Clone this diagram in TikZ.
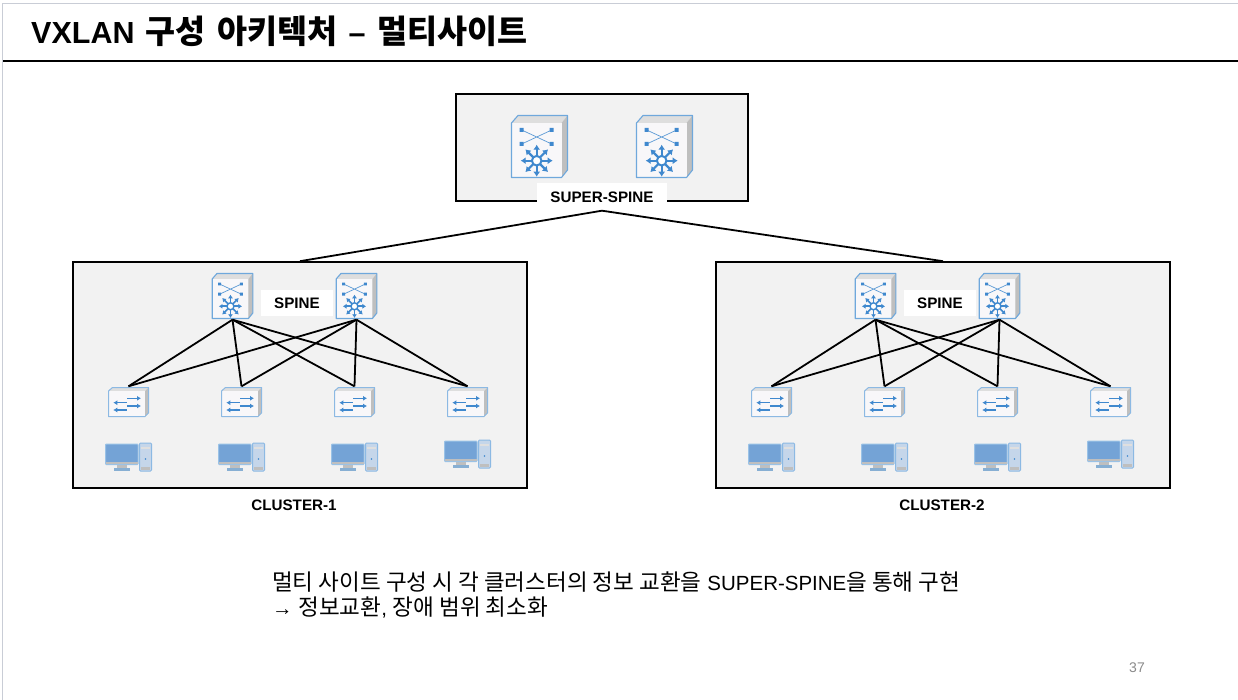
\documentclass[tikz,border=0pt]{standalone}
\usepackage{fontspec}
\setmainfont{Liberation Sans}
\newfontfamily\cjk[Scale=1.1]{Noto Sans CJK KR}
\newfontfamily\cjktitle[Scale=1.07]{Noto Sans CJK KR}
\usepackage{xcolor}
\definecolor{panelGray}{HTML}{F2F2F2}
\definecolor{frameGray}{HTML}{C9CDD6}
\definecolor{iconBlue}{HTML}{3F88CE}
\definecolor{iconEdge}{HTML}{6FA8DC}
\definecolor{iconFace}{HTML}{F8F7F9}
\definecolor{iconTop}{HTML}{DEDEDE}
\definecolor{iconSide}{HTML}{BFBFBF}
\definecolor{screenBlue}{HTML}{74A3D6}
\definecolor{towerBlue}{HTML}{C5D6EA}
\definecolor{pageGray}{HTML}{8A8A8A}
\usepackage{tikz}
\usetikzlibrary{
    arrows.meta,
    positioning
}
% Icons, drawn around the centre of their node
\newcommand{\coreswitch}[1]{%
    \begin{scope}[shift={(path picture bounding box.center)}, x=#1pt, y=-#1pt]
        \fill [iconTop] (-28,-23.5) -- (-21.5,-31) -- (28,-31) -- (22,-23.5) -- cycle;
        \fill [iconSide] (22,-23.5) -- (28,-31) -- (28,23.5) -- (22,31) -- cycle;
        \fill [iconFace] (-28,-23.5) rectangle (22,31);
        \draw [iconEdge, line width=1.1pt, line join=round] (-28,-23.5) -- (-21.5,-31) -- (28,-31) -- (28,23.5) -- (22,31) -- (-28,31) -- cycle;
        \draw [iconBlue!85, line width=.7pt] (-17.8,-16.5) -- (12.2,-2.5) (-17.8,-2.5) -- (12.2,-16.5);
        \fill [iconBlue] (-19.8,-18.5) rectangle (-15.8,-14.5) (10.2,-18.5) rectangle (14.2,-14.5)
            (-19.8,-4.5) rectangle (-15.8,-.5) (10.2,-4.5) rectangle (14.2,-.5);
        \foreach \ang in {0,45,...,315}
            \draw [iconBlue, line width=#1*2.2pt, -{Latex[length=#1*5pt, width=#1*7pt]}] (-2.8,14.2) ++(\ang:4) -- ++(\ang:12);
        \draw [iconBlue, line width=#1*2pt, fill=white] (-2.8,14.2) circle (4.8);
    \end{scope}}
\newcommand{\leafswitch}{%
    \begin{scope}[shift={(path picture bounding box.center)}]
        \fill [iconTop] (-20,-11) -- (-16,-14.5) -- (20,-14.5) -- (16.5,-11) -- cycle;
        \fill [iconSide] (16.5,-11) -- (20,-14.5) -- (20,11) -- (16.5,14.5) -- cycle;
        \fill [iconFace] (-20,-11) rectangle (16.5,14.5);
        \draw [iconEdge!80, line width=1pt, line join=round] (-20,-11) -- (-16,-14.5) -- (20,-14.5) -- (20,11) -- (16.5,14.5) -- (-20,14.5) -- cycle;
        \draw [iconBlue, line width=1.5pt, -{Latex[length=4pt, width=5pt]}] (-1.2,-3.7) -- (12.5,-3.7);
        \draw [iconBlue, line width=1.5pt, -{Latex[length=4pt, width=5pt]}] (-1.2,4) -- (12.5,4);
        \draw [iconBlue, line width=1.5pt, -{Latex[length=4pt, width=5pt]}] (-1.8,.7) -- (-15.2,.7);
        \draw [iconBlue, line width=1.5pt, -{Latex[length=4pt, width=5pt]}] (-1.8,8) -- (-15.2,8);
    \end{scope}}
\newcommand{\hostpc}{%
    \begin{scope}[shift={(path picture bounding box.center)}]
        \fill [iconSide] (-11.8,7) rectangle (-1.8,11);
        \fill [iconEdge!70!iconSide] (-15,11) rectangle (1.5,13.5);
        \draw [draw=iconEdge!70, line width=1pt, fill=screenBlue, rounded corners=.8pt] (-23,-13) rectangle (9.5,7.5);
        \fill [iconSide] (-22.6,5.3) rectangle (9.1,7.1);
        \draw [draw=iconEdge!80, line width=1pt, fill=towerBlue, rounded corners=1pt] (11,-14) rectangle (23,14);
        \fill [iconSide!50] (12.5,-10.5) rectangle (21.5,-8.5);
        \fill [iconSide] (12.5,10) rectangle (21.5,13);
        \fill [iconBlue] (17,2) circle (.8);
    \end{scope}}
\tikzset{
    % Grey panels behind each group
    panel/.style={
        draw=black,
        line width=1.6pt,
        fill=panelGray,
        minimum width=#1,
        minimum height=226pt,
        inner sep=0pt,
    },
    % Device nodes - the node itself stays invisible
    superswitch/.style={
        minimum width=60pt,
        minimum height=64pt,
        inner sep=0pt,
        path picture={\coreswitch{1}},
    },
    spineswitch/.style={
        minimum width=44pt,
        minimum height=47pt,
        inner sep=0pt,
        path picture={\coreswitch{.725}},
    },
    leaf/.style={
        minimum width=42pt,
        minimum height=31pt,
        inner sep=0pt,
        path picture={\leafswitch},
    },
    host/.style={
        minimum width=48pt,
        minimum height=30pt,
        inner sep=0pt,
        path picture={\hostpc},
    },
    % Bold captions, white behind them
    caption/.style={
        font=\fontsize{15.2}{15.2}\selectfont\bfseries,
        fill=white,
        inner sep=0pt,
    },
    % Black links
    link/.style={
        draw=black,
        line width=1.8pt,
    },
}
\begin{document}
\begin{tikzpicture}[x=1pt, y=-1pt, node distance=113pt]
    \useasboundingbox (0,0) rectangle (1238,700);
    \draw [frameGray, line width=1pt] (1238,3.5) -- (2.5,3.5) -- (2.5,700);
    \draw [black, line width=1.6pt] (3,61) -- (1238,61);

    \node (title) [anchor=base west, font=\fontsize{30.5}{30.5}\selectfont\bfseries, inner sep=0pt] at (31,43.5)
        {VXLAN\hspace{11pt}{\cjktitle 구성\hspace{12pt}아키텍처}\hspace{11pt}–\hspace{12pt}{\cjktitle 멀티사이트}};

    \node (superbox) [panel=292pt, minimum height=107pt] at (602,147.5) {};
    \node (cluster1) [panel=454pt] at (300,375) {};
    \node (cluster2) [panel=454pt] at (943,375) {};

    \node (super1) [superswitch] at (539.5,146.5) {};
    \node (super2) [superswitch, right of=super1, node distance=125pt] {};
    \node (superlabel) [caption, minimum width=130pt, minimum height=27pt] at (602,197) {SUPER-SPINE};

    \node (spine1a) [spineswitch] at (232.5,296) {};
    \node (spine1b) [spineswitch, right of=spine1a, node distance=124pt] {};
    \node (spinelabel1) [caption, minimum width=72pt, minimum height=26pt] at (297,303) {SPINE};
    \node (leaf1a) [leaf] at (128.5,402) {};
    \node (leaf1b) [leaf, right of=leaf1a] {};
    \node (leaf1c) [leaf, right of=leaf1b] {};
    \node (leaf1d) [leaf, right of=leaf1c] {};
    \node (host1a) [host, below of=leaf1a, node distance=55pt] {};
    \node (host1b) [host, below of=leaf1b, node distance=55pt] {};
    \node (host1c) [host, below of=leaf1c, node distance=55pt] {};
    \node (host1d) [host, below of=leaf1d, node distance=52pt] {};

    \node (spine2a) [spineswitch] at (875.5,296) {};
    \node (spine2b) [spineswitch, right of=spine2a, node distance=124pt] {};
    \node (spinelabel2) [caption, minimum width=72pt, minimum height=26pt] at (940,303) {SPINE};
    \node (leaf2a) [leaf] at (771.5,402) {};
    \node (leaf2b) [leaf, right of=leaf2a] {};
    \node (leaf2c) [leaf, right of=leaf2b] {};
    \node (leaf2d) [leaf, right of=leaf2c] {};
    \node (host2a) [host, below of=leaf2a, node distance=55pt] {};
    \node (host2b) [host, below of=leaf2b, node distance=55pt] {};
    \node (host2c) [host, below of=leaf2c, node distance=55pt] {};
    \node (host2d) [host, below of=leaf2d, node distance=52pt] {};

    \node (caption1) [caption] at (294,505) {CLUSTER-1};
    \node (caption2) [caption] at (942,505) {CLUSTER-2};

    \draw [link] (superlabel.south) -- (cluster1.north);
    \draw [link] (superlabel.south) -- (cluster2.north);

    \draw [link] (spine1a.south) -- (leaf1a.north);
    \draw [link] (spine1a.south) -- (leaf1b.north);
    \draw [link] (spine1a.south) -- (leaf1c.north);
    \draw [link] (spine1a.south) -- (leaf1d.north);
    \draw [link] (spine1b.south) -- (leaf1a.north);
    \draw [link] (spine1b.south) -- (leaf1b.north);
    \draw [link] (spine1b.south) -- (leaf1c.north);
    \draw [link] (spine1b.south) -- (leaf1d.north);

    \draw [link] (spine2a.south) -- (leaf2a.north);
    \draw [link] (spine2a.south) -- (leaf2b.north);
    \draw [link] (spine2a.south) -- (leaf2c.north);
    \draw [link] (spine2a.south) -- (leaf2d.north);
    \draw [link] (spine2b.south) -- (leaf2a.north);
    \draw [link] (spine2b.south) -- (leaf2b.north);
    \draw [link] (spine2b.south) -- (leaf2c.north);
    \draw [link] (spine2b.south) -- (leaf2d.north);

    \node (note) [anchor=north west, align=left, inner sep=0pt, font=\fontsize{20.5}{25}\selectfont] at (272,571.5)
        {{\cjk 멀티 사이트 구성 시 각 클러스터의 정보 교환을} SUPER-SPINE{\cjk 을 통해 구현}\\
         → {\cjk 정보교환}, {\cjk 장애 범위 최소화}};
    \node (pagenum) [text=pageGray, font=\fontsize{14}{14}\selectfont] at (1137,667.5) {37};
\end{tikzpicture}
\end{document}
